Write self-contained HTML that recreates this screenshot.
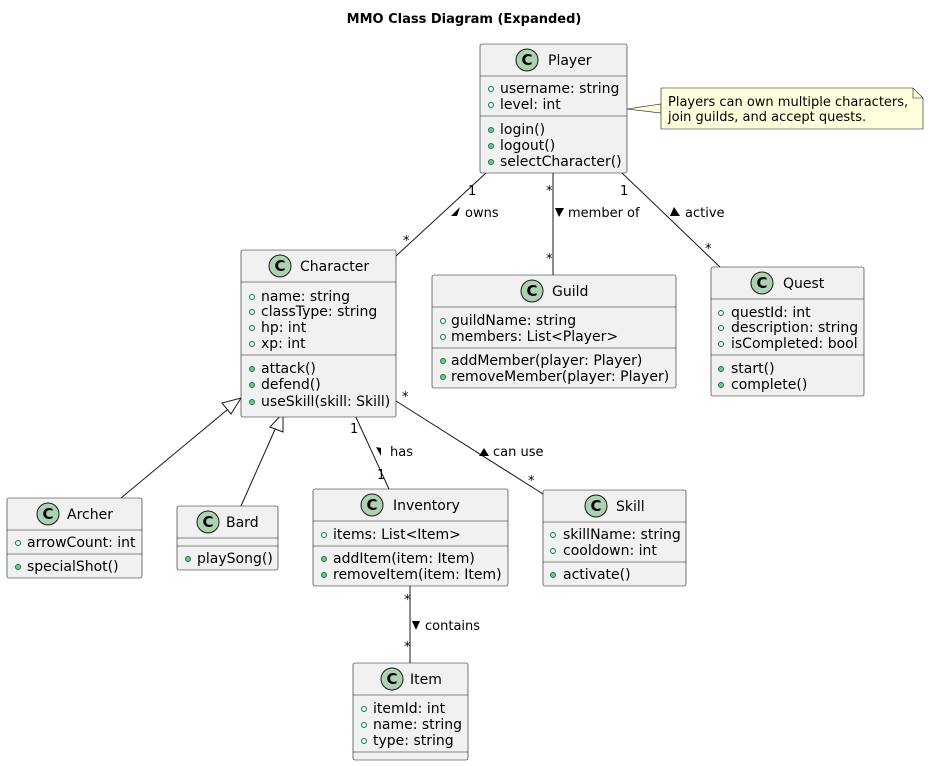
<!DOCTYPE html>
<html><head><meta charset="utf-8"><style>
html,body{margin:0;padding:0;background:#fff}
svg{display:block}
text{font-family:"DejaVu Sans","Liberation Sans",sans-serif;fill:#000}
.m{font-size:14px}
.n{font-size:14px}
.l{font-size:13px}
.b{fill:#F1F1F1;stroke:#181818;stroke-width:0.6}
.d{stroke:#181818;stroke-width:0.6}
.e{stroke:#181818;stroke-width:1;fill:none}
.a{fill:none;stroke:#038048;stroke-width:1}
.f{fill:#84BE84;stroke:#038048;stroke-width:1}
.c{fill:#ADD1B2;stroke:#181818;stroke-width:1}
.ct{font-size:15px;font-weight:bold;text-anchor:middle}
</style></head><body>
<svg width="929" height="766" viewBox="0 0 929 766" xmlns="http://www.w3.org/2000/svg">
<text x="464" y="23" text-anchor="middle" style="font-size:13px;font-weight:bold">MMO Class Diagram (Expanded)</text>

<!-- edges -->
<line class="e" x1="486" y1="173" x2="396" y2="256"/>
<line class="e" x1="553" y1="173" x2="553" y2="275"/>
<line class="e" x1="622" y1="173" x2="720" y2="267"/>
<line class="e" x1="233" y1="405" x2="121" y2="498"/>
<polygon points="241,398 231,414 222,403" fill="#fff" stroke="#181818"/>
<line class="e" x1="277" y1="425" x2="241" y2="506"/>
<polygon points="283,413 283,432 270,427" fill="#fff" stroke="#181818"/>
<line class="e" x1="354" y1="413" x2="389" y2="489"/>
<line class="e" x1="396" y1="401" x2="543" y2="494"/>
<line class="e" x1="410" y1="586" x2="410" y2="663"/>
<polygon points="627,109 661,104 661,113" fill="#FEFFDD" stroke="#181818" stroke-width="0.6"/>

<!-- edge labels -->
<text class="l" x="468" y="195">1</text>
<text class="l" x="403" y="245">*</text>
<polygon points="451,216 460,207 457,216" fill="#000"/>
<text class="l" x="465" y="217">owns</text>
<text class="l" x="546" y="195">*</text>
<text class="l" x="546" y="263">*</text>
<polygon points="555,208 564,208 559,217" fill="#000"/>
<text class="l" x="568" y="217">member of</text>
<text class="l" x="620" y="195">1</text>
<text class="l" x="705" y="253">*</text>
<polygon points="670,216 674,207 680,216" fill="#000"/>
<text class="l" x="685" y="217">active</text>
<text class="l" x="350" y="433">1</text>
<text class="l" x="377" y="479">1</text>
<polygon points="376,447 381,448 381,456" fill="#000"/>
<text class="l" x="390" y="456">has</text>
<text class="l" x="402" y="401">*</text>
<text class="l" x="528" y="485">*</text>
<polygon points="479,456 484,448 489,456" fill="#000"/>
<text class="l" x="493" y="456">can use</text>
<text class="l" x="404" y="604">*</text>
<text class="l" x="404" y="651">*</text>
<polygon points="412,621 420,621 416,630" fill="#000"/>
<text class="l" x="425" y="630">contains</text>

<!-- note -->
<polygon points="661,88 913,88 923,98 923,129 661,129" fill="#FEFFDD" stroke="#181818" stroke-width="0.6"/>
<polyline points="913,88 913,98 923,98" fill="none" stroke="#181818" stroke-width="0.6"/>
<text x="668" y="106" style="font-size:13px">Players can own multiple characters,</text>
<text x="668" y="121" style="font-size:13px">join guilds, and accept quests.</text>

<!-- Player -->
<rect class="b" x="480" y="44" width="147" height="129" rx="2"/>
<circle class="c" cx="527" cy="60" r="11"/><text class="ct" x="527" y="65">C</text>
<text class="n" x="548" y="65">Player</text>
<line class="d" x1="480" y1="76" x2="627" y2="76"/>
<circle class="a" cx="491" cy="89" r="2.5"/><text class="m" x="500" y="93">username: string</text>
<circle class="a" cx="491" cy="105" r="2.5"/><text class="m" x="500" y="109">level: int</text>
<line class="d" x1="480" y1="116" x2="627" y2="116"/>
<circle class="f" cx="491" cy="130" r="2.5"/><text class="m" x="500" y="134">login()</text>
<circle class="f" cx="491" cy="146" r="2.5"/><text class="m" x="500" y="150">logout()</text>
<circle class="f" cx="491" cy="162" r="2.5"/><text class="m" x="500" y="166">selectCharacter()</text>

<!-- Character -->
<rect class="b" x="241" y="250" width="155" height="167" rx="2"/>
<circle class="c" cx="280" cy="266" r="11"/><text class="ct" x="280" y="271">C</text>
<text class="n" x="300" y="271">Character</text>
<line class="d" x1="241" y1="282" x2="396" y2="282"/>
<circle class="a" cx="252" cy="297" r="2.5"/><text class="m" x="261" y="301">name: string</text>
<circle class="a" cx="252" cy="312" r="2.5"/><text class="m" x="261" y="316">classType: string</text>
<circle class="a" cx="252" cy="328" r="2.5"/><text class="m" x="261" y="332">hp: int</text>
<circle class="a" cx="252" cy="344" r="2.5"/><text class="m" x="261" y="348">xp: int</text>
<line class="d" x1="241" y1="355" x2="396" y2="355"/>
<circle class="f" cx="252" cy="369" r="2.5"/><text class="m" x="261" y="373">attack()</text>
<circle class="f" cx="252" cy="385" r="2.5"/><text class="m" x="261" y="389">defend()</text>
<circle class="f" cx="252" cy="402" r="2.5"/><text class="m" x="261" y="406">useSkill(skill: Skill)</text>

<!-- Guild -->
<rect class="b" x="432" y="275" width="244" height="113" rx="2"/>
<circle class="c" cx="532" cy="291" r="11"/><text class="ct" x="532" y="296">C</text>
<text class="n" x="552" y="296">Guild</text>
<line class="d" x1="432" y1="307" x2="676" y2="307"/>
<circle class="a" cx="443" cy="321" r="2.5"/><text class="m" x="451" y="325">guildName: string</text>
<circle class="a" cx="443" cy="337" r="2.5"/><text class="m" x="451" y="341">members: List&lt;Player&gt;</text>
<line class="d" x1="432" y1="348" x2="676" y2="348"/>
<circle class="f" cx="443" cy="361" r="2.5"/><text class="m" x="451" y="365">addMember(player: Player)</text>
<circle class="f" cx="443" cy="377" r="2.5"/><text class="m" x="451" y="381">removeMember(player: Player)</text>

<!-- Quest -->
<rect class="b" x="711" y="267" width="153" height="129" rx="2"/>
<circle class="c" cx="762" cy="283" r="11"/><text class="ct" x="762" y="288">C</text>
<text class="n" x="783" y="288">Quest</text>
<line class="d" x1="711" y1="299" x2="864" y2="299"/>
<circle class="a" cx="721" cy="313" r="2.5"/><text class="m" x="731" y="317">questId: int</text>
<circle class="a" cx="721" cy="328" r="2.5"/><text class="m" x="731" y="332">description: string</text>
<circle class="a" cx="721" cy="344" r="2.5"/><text class="m" x="731" y="348">isCompleted: bool</text>
<line class="d" x1="711" y1="355" x2="864" y2="355"/>
<circle class="f" cx="721" cy="369" r="2.5"/><text class="m" x="731" y="373">start()</text>
<circle class="f" cx="721" cy="385" r="2.5"/><text class="m" x="731" y="389">complete()</text>

<!-- Archer -->
<rect class="b" x="7" y="498" width="135" height="80" rx="2"/>
<circle class="c" cx="48" cy="514" r="11"/><text class="ct" x="48" y="519">C</text>
<text class="n" x="67" y="519">Archer</text>
<line class="d" x1="7" y1="530" x2="142" y2="530"/>
<circle class="a" cx="18" cy="543" r="2.5"/><text class="m" x="27" y="547">arrowCount: int</text>
<line class="d" x1="7" y1="554" x2="142" y2="554"/>
<circle class="f" cx="18" cy="567" r="2.5"/><text class="m" x="27" y="571">specialShot()</text>

<!-- Bard -->
<rect class="b" x="177" y="506" width="101" height="64" rx="2"/>
<circle class="c" cx="208" cy="522" r="11"/><text class="ct" x="208" y="527">C</text>
<text class="n" x="226" y="527">Bard</text>
<line class="d" x1="177" y1="538" x2="278" y2="538"/>
<line class="d" x1="177" y1="546" x2="278" y2="546"/>
<circle class="f" cx="188" cy="559" r="2.5"/><text class="m" x="197" y="563">playSong()</text>

<!-- Inventory -->
<rect class="b" x="313" y="489" width="195" height="97" rx="2"/>
<circle class="c" cx="372" cy="505" r="11"/><text class="ct" x="372" y="510">C</text>
<text class="n" x="393" y="510">Inventory</text>
<line class="d" x1="313" y1="521" x2="508" y2="521"/>
<circle class="a" cx="324" cy="535" r="2.5"/><text class="m" x="333" y="539">items: List&lt;Item&gt;</text>
<line class="d" x1="313" y1="546" x2="508" y2="546"/>
<circle class="f" cx="324" cy="559" r="2.5"/><text class="m" x="333" y="563">addItem(item: Item)</text>
<circle class="f" cx="324" cy="575" r="2.5"/><text class="m" x="333" y="579">removeItem(item: Item)</text>

<!-- Skill -->
<rect class="b" x="543" y="490" width="143" height="96" rx="2"/>
<circle class="c" cx="596" cy="506" r="11"/><text class="ct" x="596" y="511">C</text>
<text class="n" x="616" y="511">Skill</text>
<line class="d" x1="543" y1="522" x2="686" y2="522"/>
<circle class="a" cx="553" cy="535" r="2.5"/><text class="m" x="563" y="539">skillName: string</text>
<circle class="a" cx="553" cy="551" r="2.5"/><text class="m" x="563" y="555">cooldown: int</text>
<line class="d" x1="543" y1="562" x2="686" y2="562"/>
<circle class="f" cx="553" cy="575" r="2.5"/><text class="m" x="563" y="579">activate()</text>

<!-- Item -->
<rect class="b" x="353" y="663" width="115" height="97" rx="2"/>
<circle class="c" cx="392" cy="679" r="11"/><text class="ct" x="392" y="684">C</text>
<text class="n" x="410" y="684">Item</text>
<line class="d" x1="353" y1="695" x2="468" y2="695"/>
<circle class="a" cx="364" cy="709" r="2.5"/><text class="m" x="373" y="713">itemId: int</text>
<circle class="a" cx="364" cy="725" r="2.5"/><text class="m" x="373" y="729">name: string</text>
<circle class="a" cx="364" cy="741" r="2.5"/><text class="m" x="373" y="745">type: string</text>
<line class="d" x1="353" y1="752" x2="468" y2="752"/>
</svg>
</body></html>
